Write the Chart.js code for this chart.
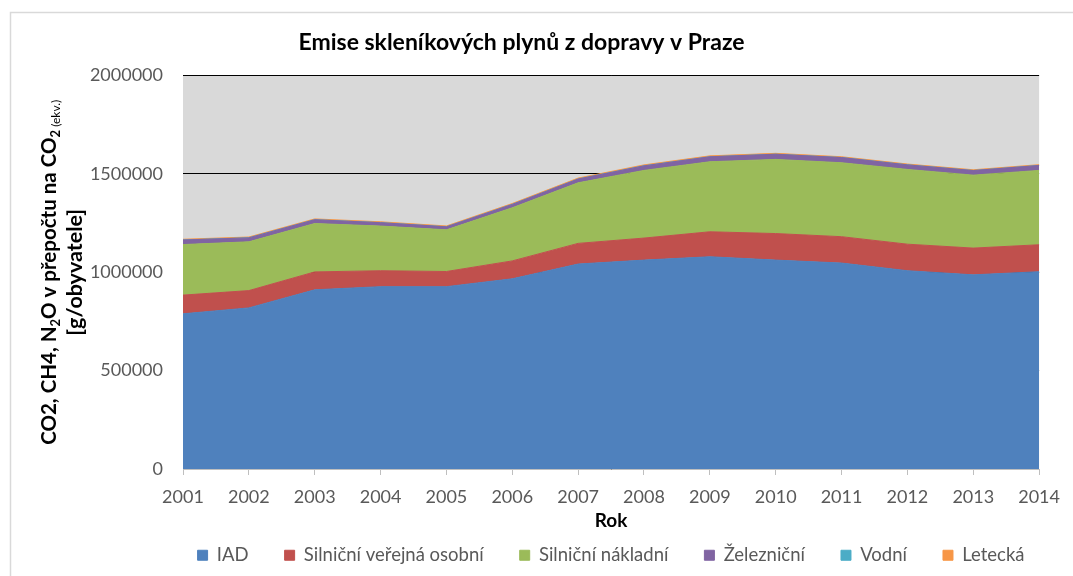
<!DOCTYPE html>
<html>
<head>
<meta charset="utf-8">
<script src="https://cdn.jsdelivr.net/npm/chart.js@4.4.1/dist/chart.umd.min.js"></script>
<style>
  body { margin: 0; background: #fff; }
</style>
</head>
<body>
<canvas id="chart" width="1073" height="576"></canvas>
<script>
const years = ["2001", "2002", "2003", "2004", "2005", "2006", "2007", "2008", "2009", "2010", "2011", "2012", "2013", "2014"];

// g/obyvatele
const iad = [789000, 819000, 911000, 927000, 927000, 967000, 1042000, 1062000, 1079000, 1062000, 1047000, 1008000, 987000, 1003000];
const silnicniVerejna = [95000, 88000, 91000, 81000, 77000, 91000, 105000, 112000, 127000, 135000, 134000, 135000, 136000, 137000];
const silnicniNakladni = [257000, 248000, 246000, 227000, 212000, 270000, 308000, 344000, 356000, 377000, 376000, 380000, 371000, 378000];
const zeleznicni = [23000, 20000, 19000, 17000, 15000, 17000, 19000, 23000, 25000, 26000, 26000, 23000, 23000, 25000];
const vodni = [600, 600, 500, 500, 500, 500, 500, 500, 500, 500, 500, 500, 500, 500];
const letecka = [3500, 3800, 4000, 4200, 4100, 4300, 4500, 4600, 4400, 4200, 4000, 3900, 3800, 3700];

const seriesNames = ["IAD", "Silniční veřejná osobní", "Silniční nákladní", "Železniční", "Vodní", "Letecká"];
const seriesData = [iad, silnicniVerejna, silnicniNakladni, zeleznicni, vodni, letecka];
const seriesColors = ["#4f81bd", "#c0504d", "#9bbb59", "#8064a2", "#4bacc6", "#f79646"];

const yTicks = [0, 500000, 1000000, 1500000, 2000000];

const FONT = "Lato, 'Liberation Sans', sans-serif";

// white page, thin frame and grey plot background
const backdrop = {
  id: "backdrop",
  beforeDraw(chart) {
    const { ctx, chartArea: a } = chart;
    ctx.save();
    ctx.fillStyle = "#fff";
    ctx.fillRect(0, 0, chart.width, chart.height);
    ctx.strokeStyle = "#d9d9d9";
    ctx.lineWidth = 1.5;
    ctx.strokeRect(10.5, 12.5, chart.width + 20, chart.height + 20);
    ctx.fillStyle = "#d9d9d9";
    ctx.fillRect(a.left, a.top, a.right - a.left, a.bottom - a.top);
    ctx.restore();
  },
};

// y title with subscripts, drawn by hand
const yTitle = {
  id: "yTitle",
  afterDraw(chart) {
    const { ctx, chartArea: a } = chart;
    const cy = (a.top + a.bottom) / 2;
    const big = "bold 20.5px " + FONT;
    const sub = "bold 13px " + FONT;
    const small = "12px " + FONT;
    const parts = [
      ["CO2, CH4, N", big, 0],
      ["2", sub, 4],
      ["O v přepočtu na CO", big, 0],
      ["2", sub, 4],
      [" (ekv.)", small, 4],
    ];
    ctx.save();
    ctx.fillStyle = "#000";
    ctx.textBaseline = "alphabetic";
    let total = 0;
    parts.forEach((p) => {
      ctx.font = p[1];
      total += ctx.measureText(p[0]).width;
    });
    ctx.translate(56, cy);
    ctx.rotate(-Math.PI / 2);
    let x = -total / 2;
    parts.forEach((p) => {
      ctx.font = p[1];
      ctx.fillText(p[0], x, p[2]);
      x += ctx.measureText(p[0]).width;
    });
    ctx.restore();

    ctx.save();
    ctx.fillStyle = "#000";
    ctx.font = "bold 21.5px " + FONT;
    ctx.textAlign = "center";
    ctx.textBaseline = "alphabetic";
    ctx.translate(82, cy);
    ctx.rotate(-Math.PI / 2);
    ctx.fillText("[g/obyvatele]", 0, 0);
    ctx.restore();
  },
};

// legend: wide gaps between entries, one row, short box
const LEGEND_GAP = 36;
const LEGEND_SLACK = 120;
const legendSpacing = {
  id: "legendSpacing",
  afterInit(chart) {
    const lg = chart.legend;
    const fit = lg.fit;
    lg.fit = function () {
      this.maxWidth += LEGEND_SLACK;
      fit.call(this);
      this.height = 42;
    };
    const draw = lg.draw;
    lg.draw = function () {
      const shift = LEGEND_GAP - 12;
      this.top -= shift;
      this.left -= LEGEND_SLACK;
      this.right += LEGEND_SLACK;
      this.width += 2 * LEGEND_SLACK;
      draw.call(this);
      this.top += shift;
      this.left += LEGEND_SLACK;
      this.right -= LEGEND_SLACK;
      this.width -= 2 * LEGEND_SLACK;
    };
  },
};

const datasets = seriesNames.map((name, i) => ({
  label: name,
  data: seriesData[i],
  backgroundColor: seriesColors[i],
  borderColor: seriesColors[i],
  borderWidth: 1,
  fill: i === 0 ? "origin" : "-1",
  pointRadius: 0,
  tension: 0,
}));

new Chart(document.getElementById("chart"), {
  type: "line",
  data: { labels: years, datasets },
  options: {
    responsive: false,
    animation: false,
    devicePixelRatio: 1,
    layout: { padding: { top: 12, right: 30, bottom: 0, left: 0 } },
    plugins: {
      title: {
        display: true,
        text: "Emise skleníkových plynů z dopravy v Praze",
        color: "#000",
        font: { family: FONT, size: 23, weight: "bold" },
        padding: { top: 17, bottom: 19 },
      },
      legend: {
        position: "bottom",
        fullSize: false,
        labels: {
          boxWidth: 10,
          boxHeight: 10,
          padding: LEGEND_GAP,
          color: "#595959",
          font: { family: FONT, size: 18.5 },
        },
      },
      tooltip: { enabled: false },
    },
    scales: {
      x: {
        grid: { drawOnChartArea: false, color: "#bfbfbf", tickLength: 6 },
        border: { color: "#bfbfbf" },
        ticks: { color: "#595959", font: { family: FONT, size: 18, lineHeight: 1 }, padding: 13, maxRotation: 0 },
        title: {
          display: true,
          text: "Rok",
          color: "#000",
          font: { family: FONT, size: 19, weight: "bold", lineHeight: 1 },
          padding: { top: -7.5, bottom: 3.5 },
        },
      },
      y: {
        stacked: true,
        min: 0,
        max: 2000000,
        afterBuildTicks(scale) {
          scale.ticks = yTicks.map((v) => ({ value: v }));
        },
        afterFit(scale) {
          scale.width = 183;
        },
        grid: { color: "#000", drawTicks: false },
        border: { display: false },
        ticks: { color: "#595959", font: { family: FONT, size: 18 }, padding: 20, callback: (v) => String(v) },
      },
    },
  },
  plugins: [backdrop, yTitle, legendSpacing],
});
</script>
</body>
</html>
